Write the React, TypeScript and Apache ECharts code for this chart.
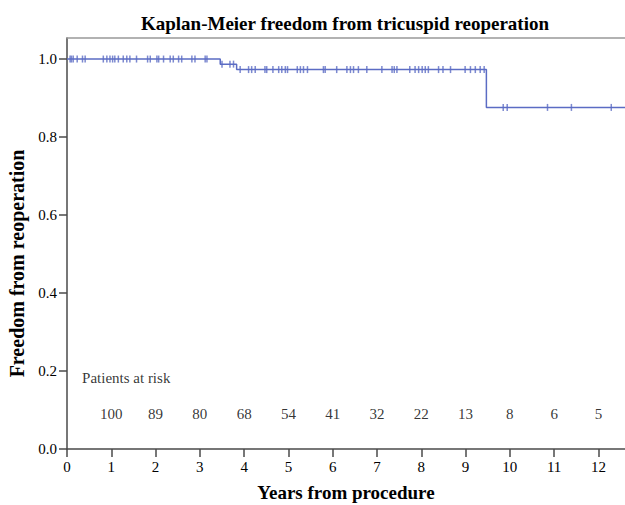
import React, { useEffect, useRef } from "react";
import * as echarts from "echarts";

const titleText = "Kaplan-Meier freedom from tricuspid reoperation";
const xAxisName = "Years from procedure";
const yAxisName = "Freedom from reoperation";

// Kaplan-Meier step points: [time (years), survival after the event]
const eventTimes = [3.46, 3.83, 9.47];
const eventSurvival = [0.987, 0.973, 0.876];
const followUpEnd = 12.6;

// censoring times (years)
const censorTimes = [
  0.07, 0.1, 0.14, 0.23, 0.35, 0.41, 0.82, 0.9, 0.97, 1.03, 1.08, 1.16, 1.27, 1.35,
  1.42, 1.57, 1.82, 1.88, 2.03, 2.07, 2.18, 2.33, 2.4, 2.52, 2.59, 2.82, 2.89, 3.12,
  3.16, 3.5, 3.68, 3.76, 3.91, 4.1, 4.17, 4.25, 4.47, 4.51, 4.65, 4.78, 4.85, 4.93,
  4.98, 5.2, 5.27, 5.34, 5.43, 5.79, 5.83, 6.09, 6.32, 6.4, 6.47, 6.58, 6.77, 7.11,
  7.34, 7.39, 7.45, 7.74, 7.86, 7.94, 8.02, 8.09, 8.16, 8.39, 8.49, 8.66, 8.99, 9.11,
  9.22, 9.33, 9.42, 9.85, 9.94, 10.85, 11.39, 12.29,
];

// patients at risk at each year
const riskYears = [1, 2, 3, 4, 5, 6, 7, 8, 9, 10, 11, 12];
const atRisk = [100, 89, 80, 68, 54, 41, 32, 22, 13, 8, 6, 5];
const riskRowY = 0.09;
const riskTitle = "Patients at risk";
const riskTitlePos = [0.34, 0.182];

const xTicks = [0, 1, 2, 3, 4, 5, 6, 7, 8, 9, 10, 11, 12];
const yTicks = [0, 0.2, 0.4, 0.6, 0.8, 1.0];

const survivalAt = (t: number) => {
  let s = 1;
  for (let i = 0; i < eventTimes.length; i++) if (t >= eventTimes[i]) s = eventSurvival[i];
  return s;
};

export default function App() {
  const ref = useRef<HTMLDivElement>(null);
  useEffect(() => {
    if (!ref.current) return;
    const chart = echarts.init(ref.current, null, { renderer: "svg" });
    const font = "Liberation Serif";
    const axisColor = "#4a4a4a";
    const lineColor = "#5b6cc4";
    const stepData: number[][] = [[0, 1]];
    eventTimes.forEach((t, i) => stepData.push([t, eventSurvival[i]]));
    stepData.push([followUpEnd, eventSurvival[eventSurvival.length - 1]]);

    chart.setOption({
      animation: false,
      backgroundColor: "#ffffff",
      title: {
        text: titleText,
        left: 340,
        top: 9,
        textAlign: "center",
        textStyle: { fontFamily: font, fontWeight: "bold", fontSize: 19, color: "#000" },
      },
      grid: { left: 67, right: 0, top: 38, bottom: 56, outerBoundsMode: "none", containLabel: false },
      xAxis: [
        {
          type: "value",
          min: 0,
          max: followUpEnd,
          name: xAxisName,
          nameLocation: "middle",
          nameGap: 34,
          nameTextStyle: { fontFamily: font, fontWeight: "bold", fontSize: 19, color: "#000" },
          axisLine: { show: true, lineStyle: { color: axisColor, width: 1.5 } },
          axisTick: { show: true, length: 8, customValues: xTicks, lineStyle: { color: axisColor, width: 1.5 } },
          axisLabel: { customValues: xTicks, margin: 10, fontFamily: font, fontSize: 15, color: "#000" },
          splitLine: { show: false },
        },
        {
          type: "value",
          position: "top",
          min: 0,
          max: followUpEnd,
          axisLine: { show: true, lineStyle: { color: "#999999", width: 1.5 } },
          axisTick: { show: false },
          axisLabel: { show: false },
          splitLine: { show: false },
        },
      ],
      yAxis: {
        type: "value",
        min: 0,
        max: 1.054,
        name: yAxisName,
        nameLocation: "middle",
        nameGap: 39,
        nameTextStyle: {
          fontFamily: font,
          fontWeight: "bold",
          fontSize: 20,
          color: "#000",
          padding: [0, 40, 0, 0],
        },
        axisLine: { show: true, lineStyle: { color: axisColor, width: 1.5 } },
        axisTick: { show: true, length: 8, customValues: yTicks, lineStyle: { color: axisColor, width: 1.5 } },
        axisLabel: {
          customValues: yTicks,
          margin: 10,
          fontFamily: font,
          fontSize: 15,
          color: "#000",
          formatter: (v: number) => v.toFixed(1),
        },
        splitLine: { show: false },
      },
      series: [
        {
          type: "line",
          step: "end",
          data: stepData,
          symbol: "none",
          lineStyle: { color: lineColor, width: 1.5 },
          z: 3,
        },
        {
          type: "scatter",
          data: censorTimes.map((t) => [t, survivalAt(t)]),
          symbol: "rect",
          symbolSize: [1.5, 7],
          itemStyle: { color: lineColor },
          z: 4,
        },
        {
          type: "scatter",
          data: riskYears.map((y, i) => [y, riskRowY, atRisk[i]]),
          symbolSize: 0,
          label: {
            show: true,
            position: "inside",
            formatter: (p: any) => String(p.value[2]),
            fontFamily: font,
            fontSize: 15,
            color: "#000",
          },
        },
        {
          type: "scatter",
          data: [[riskTitlePos[0], riskTitlePos[1]]],
          symbolSize: 0,
          label: {
            show: true,
            position: "right",
            distance: 0,
            formatter: riskTitle,
            fontFamily: font,
            fontSize: 15,
            color: "#000",
          },
        },
      ],
    });
    return () => chart.dispose();
  }, []);
  return <div ref={ref} style={{ position: "fixed", left: 0, top: 0, width: 625, height: 505 }} />;
}
